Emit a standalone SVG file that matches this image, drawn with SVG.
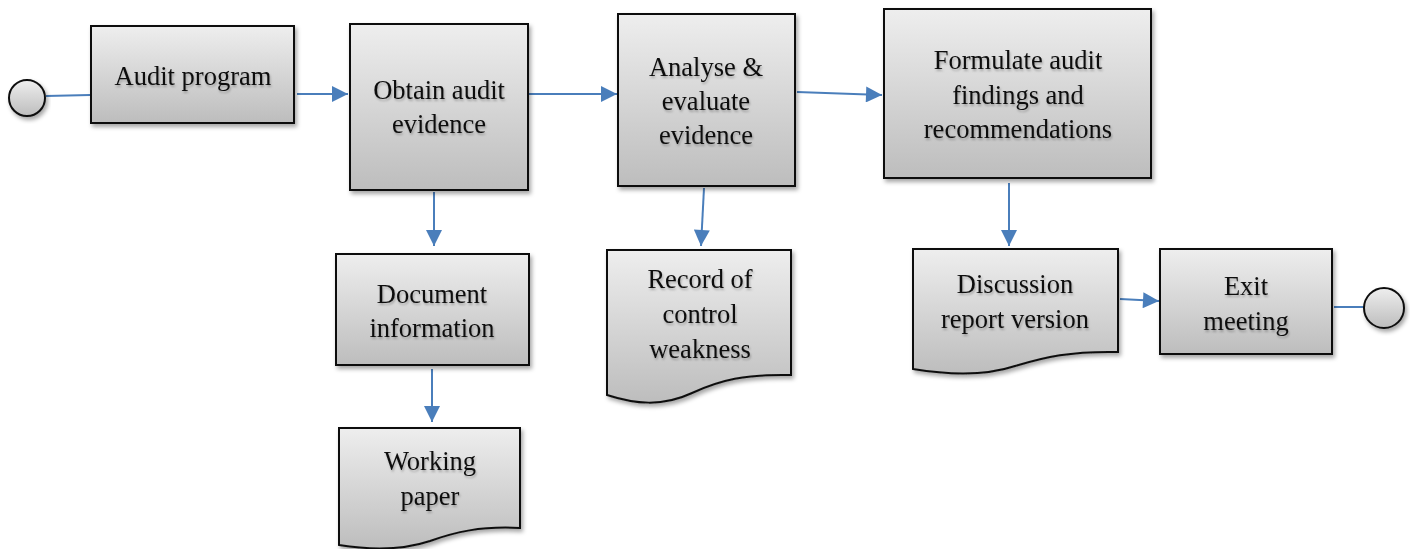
<svg xmlns="http://www.w3.org/2000/svg" width="1410" height="549" viewBox="0 0 1410 549">
<defs>
<linearGradient id="g" x1="0" y1="0" x2="0" y2="1">
<stop offset="0" stop-color="#eeeeee"/>
<stop offset="1" stop-color="#bdbdbd"/>
</linearGradient>
<filter id="sh" x="-10%" y="-10%" width="125%" height="130%">
<feDropShadow dx="2" dy="3" stdDeviation="2" flood-color="#000" flood-opacity="0.35"/>
</filter>
<filter id="ts" x="-5%" y="-20%" width="110%" height="150%">
<feDropShadow dx="1" dy="2" stdDeviation="1" flood-color="#000" flood-opacity="0.25"/>
</filter>
<marker id="ah" viewBox="0 0 10 10" refX="10" refY="5" markerWidth="8.5" markerHeight="8" markerUnits="strokeWidth" orient="auto">
<path d="M0,0 L10,5 L0,10 z" fill="#4a7ebb"/>
</marker>
</defs>
<style>
.b{fill:url(#g);stroke:#111;stroke-width:2;filter:url(#sh)}
.t{font-family:"Liberation Serif","Times New Roman",serif;font-size:26.5px;fill:#111;text-anchor:middle;filter:url(#ts)}
.c{stroke:#4a7ebb;stroke-width:2;fill:none}
.a{marker-end:url(#ah)}
</style>
<g id="connectors">
<line class="c" x1="46" y1="96" x2="90" y2="95"/>
<line class="c a" x1="297" y1="94" x2="348" y2="94"/>
<line class="c a" x1="529" y1="94" x2="617" y2="94"/>
<line class="c a" x1="797" y1="92" x2="882" y2="95"/>
<line class="c a" x1="434" y1="192" x2="434" y2="246"/>
<line class="c a" x1="432" y1="369" x2="432" y2="422"/>
<line class="c a" x1="704" y1="188" x2="701" y2="246"/>
<line class="c a" x1="1009" y1="183" x2="1009" y2="246"/>
<line class="c a" x1="1120" y1="299" x2="1159" y2="301"/>
<line class="c" x1="1334" y1="307" x2="1364" y2="307"/>
</g>
<g id="start"><circle class="b" cx="27" cy="98" r="18"/></g>
<g id="audit-program">
<rect class="b" x="91" y="26" width="203" height="97"/>
<text class="t" x="193" y="85">Audit program</text>
</g>
<g id="obtain">
<rect class="b" x="350" y="24" width="178" height="166"/>
<text class="t" x="439" y="99">Obtain audit</text>
<text class="t" x="439" y="133">evidence</text>
</g>
<g id="analyse">
<rect class="b" x="618" y="14" width="177" height="172"/>
<text class="t" x="706" y="76">Analyse &amp;</text>
<text class="t" x="706" y="110">evaluate</text>
<text class="t" x="706" y="144">evidence</text>
</g>
<g id="formulate">
<rect class="b" x="884" y="9" width="267" height="169"/>
<text class="t" x="1018" y="69">Formulate audit</text>
<text class="t" x="1018" y="104">findings and</text>
<text class="t" x="1018" y="138">recommendations</text>
</g>
<g id="document">
<rect class="b" x="336" y="254" width="193" height="111"/>
<text class="t" x="432" y="303">Document</text>
<text class="t" x="432" y="337">information</text>
</g>
<g id="working-paper">
<path class="b" d="M339,428 H520 V528 C480,526 455,532 430,541 C400,551 370,550 339,545 Z"/>
<text class="t" x="430" y="470">Working</text>
<text class="t" x="430" y="505">paper</text>
</g>
<g id="record">
<path class="b" d="M607,250 H791 V375 C745,374 720,380 692,393 C662,407 635,404 607,395 Z"/>
<text class="t" x="700" y="288">Record of</text>
<text class="t" x="700" y="323">control</text>
<text class="t" x="700" y="358">weakness</text>
</g>
<g id="discussion">
<path class="b" d="M913,249 H1118 V352 C1070,351 1045,357 1015,366 C985,376 950,375 913,369 Z"/>
<text class="t" x="1015" y="293">Discussion</text>
<text class="t" x="1015" y="328">report version</text>
</g>
<g id="exit">
<rect class="b" x="1160" y="249" width="172" height="105"/>
<text class="t" x="1246" y="295">Exit</text>
<text class="t" x="1246" y="330">meeting</text>
</g>
<g id="end"><circle class="b" cx="1384" cy="308" r="20"/></g>
</svg>
